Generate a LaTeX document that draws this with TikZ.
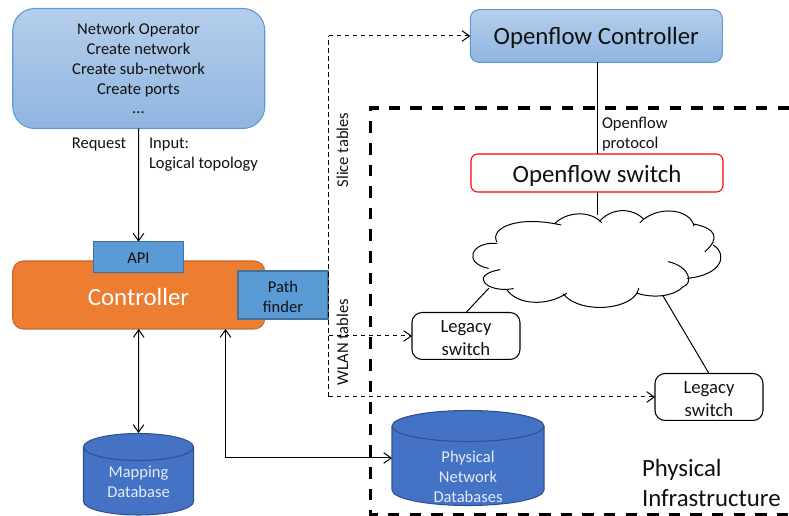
\documentclass[tikz,border=0pt]{standalone}
\usepackage{fontspec}
\setmainfont{Carlito}
\usetikzlibrary{arrows.meta}
\definecolor{edgeblue}{HTML}{5B9BD5}
\definecolor{lightA}{HTML}{B5CEEB}
\definecolor{lightB}{HTML}{90B5E1}
\definecolor{orangeC}{HTML}{ED7D31}
\definecolor{orangeE}{HTML}{C8682A}
\definecolor{boxblue}{HTML}{5B9BD5}
\definecolor{boxedge}{HTML}{41719C}
\definecolor{dbblue}{HTML}{4472C4}
\definecolor{dbedge}{HTML}{2F528F}
\definecolor{dbtext}{HTML}{E4ECF8}
\definecolor{txt}{HTML}{111111}
\tikzset{
  every node/.style={inner sep=0pt,outer sep=0pt,text=txt,align=center},
  gradbox/.style={draw=edgeblue,line width=.8pt,top color=lightA,bottom color=lightB},
  subbox/.style={draw=boxedge,line width=.8pt,fill=boxblue},
  legacy/.style={draw=black,line width=.8pt,fill=white,rounded corners=7.5pt,minimum width=81pt,minimum height=35.2pt},
  legtext/.style={font=\fontsize{14pt}{17pt}\selectfont},
  small/.style={font=\fontsize{12.4pt}{15pt}\selectfont},
  big/.style={font=\fontsize{18.6pt}{22pt}\selectfont},
  conn/.style={draw=black,line width=.75pt},
  arr/.style={conn,-{Straight Barb[length=5.6pt,width=8pt]}},
  biarr/.style={conn,{Straight Barb[length=5.6pt,width=8pt]}-{Straight Barb[length=5.6pt,width=8pt]}},
  thindash/.style={draw=black,line width=.75pt,dash pattern=on 3.4pt off 2.6pt},
  bigdash/.style={draw=black,line width=2.4pt,dash pattern=on 8.6pt off 7.6pt},
  dbstyle/.style={draw=dbedge,line width=.8pt,fill=dbblue},
}
\newcommand{\dbcyl}[5]{% cx top bottom rx ry
  \path[dbstyle] ({#1-#4},{#2+#5}) arc[start angle=180,end angle=360,x radius=#4,y radius=#5]
    -- ({#1+#4},{#3-#5}) arc[start angle=0,end angle=180,x radius=#4,y radius=#5] -- cycle;
  \draw[dbedge,line width=.8pt] ({#1-#4},{#2+#5}) arc[start angle=180,end angle=0,x radius=#4,y radius=#5];
}
\begin{document}
\begin{tikzpicture}[x=.75pt,y=-.75pt]
\useasboundingbox (0,0) rectangle (789,516);
% physical infrastructure frame
\coordinate (fa) at (789,108);
\coordinate (fb) at (370.5,108);
\coordinate (fc) at (370.5,514.5);
\coordinate (fd) at (789,514.5);
\draw[bigdash] (fa) -- (fb) -- (fc) -- (fd);

% operator
\node[gradbox,rounded corners=16.5pt,minimum width=189pt,minimum height=90pt] (op) at (138.75,68.5) {};
\node[small] (optext) at (138.5,68.8) {Network Operator\\Create network\\Create sub-network\\Create ports\\\raisebox{1pt}{...}};
\node[small,anchor=center] (req) at (99,145) {Request};
\node[small,align=left,anchor=north west] (inp) at (149,138) {Input:\\Logical topology};

% controller
\node[draw=orangeE,line width=.8pt,fill=orangeC,rounded corners=8pt,minimum width=189pt,minimum height=51pt] (ctl) at (138.75,295) {};
\node[big,text=white] (ctltext) at (138.5,296.5) {Controller};
\node[subbox,minimum width=68pt,minimum height=23pt] (api) at (138.5,257) {};
\node[small] (apit) at (138.5,258) {API};
\node[subbox,minimum width=67.5pt,minimum height=36pt] (pf) at (283,295) {};
\node[small] (pft) at (283,297) {Path\\finder};

% databases
\dbcyl{138.5}{433.5}{515}{55}{13.5}
\node[minimum width=82pt,minimum height=61pt] (mdb) at (138.5,474) {};
\node[small,text=dbtext] (mdbt) at (138.5,481.5) {Mapping\\Database};
\dbcyl{468}{410.5}{505.5}{76}{15.5}
\node[minimum width=114pt,minimum height=71pt] (pdb) at (468,458) {};
\node[small,text=dbtext] (pdbt) at (468,477) {Physical\\Network\\Databases};

% openflow
\node[gradbox,rounded corners=6.5pt,minimum width=189pt,minimum height=39.5pt] (ofc) at (596.3,36) {};
\node[big] (ofct) at (596.3,38) {Openflow Controller};
\node[draw=red,line width=.8pt,fill=white,rounded corners=5pt,minimum width=189pt,minimum height=28.5pt] (ofs) at (597,173) {};
\node[big] (ofst) at (597,175.5) {Openflow switch};
\node[small,align=left,anchor=north west] (ofp) at (602,117.5) {Openflow\\protocol};

% legacy
\node[legacy] (l1) at (466,336) {};
\node[legtext] (l1t) at (466,338) {Legacy\\switch};
\node[legacy] (l2) at (709,397) {};
\node[legtext] (l2t) at (709,399) {Legacy\\switch};

% connectors
\coordinate (ctop) at (597,215);
\coordinate (cleft) at (489,288);
\coordinate (cright) at (662.5,295);
\draw[conn] (ofc.south -| ofs.north) -- (ofs.north);
\draw[conn] (ofs.south) -- (ctop);
\draw[conn] (cleft) -- (l1.north);
\draw[conn] (cright) -- (l2.north);
\draw[arr] (op.south) -- (api.north);
\draw[biarr] (ctl.south) -- (mdb.north |- 0,433);
\coordinate (pbend) at (225.5,458);
\draw[biarr] (pbend |- ctl.south) -- (pbend) -- (pdb.west);

% dashed table lines
\coordinate (dtop) at (328.5,36);
\coordinate (dbot) at (328.5,397);
\coordinate (dmid) at (328.5,336);
\draw[thindash] (dbot) -- (dtop);
\draw[thindash,-{Straight Barb[length=5.6pt,width=8pt]}] (dtop) -- (ofc.west);
\draw[thindash,-{Straight Barb[length=5.6pt,width=8pt]}] (dmid) -- (l1.west);
\draw[thindash,-{Straight Barb[length=5.6pt,width=8pt]}] (dbot) -- (l2.west);
\node[small,rotate=90] (slice) at (342.5,150) {Slice tables};
\node[small,rotate=90] (wlan) at (342.5,342) {WLAN tables};

% cloud
\begin{scope}[shift={(400,200)},x=.25pt,y=-.25pt]
\path[fill=white] (290,125) .. controls (270,85) and (350,45) .. (465,68)
 .. controls (500,35) and (570,30) .. (600,62)
 .. controls (640,20) and (700,25) .. (725,58)
 .. controls (780,15) and (870,25) .. (880,72)
 .. controls (950,85) and (960,115) .. (940,135)
 .. controls (985,165) and (965,225) .. (862,235)
 .. controls (860,270) and (770,300) .. (712,280)
 .. controls (690,330) and (540,345) .. (490,282)
 .. controls (440,320) and (340,310) .. (320,268)
 .. controls (260,280) and (205,225) .. (262,205)
 .. controls (190,190) and (210,125) .. (290,130) -- cycle;
\draw[conn,line cap=round]
 (290,125) .. controls (270,85) and (350,45) .. (483,75)
 (465,70) .. controls (500,35) and (570,30) .. (605,68)
 (600,62) .. controls (640,20) and (700,25) .. (732,58)
 (720,68) .. controls (770,15) and (870,25) .. (882,78)
 (880,72) .. controls (950,85) and (960,115) .. (915,155)
 (940,135) .. controls (985,165) and (965,225) .. (862,235)
 (805,185) .. controls (870,200) and (880,250) .. (850,260) .. controls (820,290) and (760,295) .. (712,280)
 (716,265) .. controls (705,330) and (540,345) .. (490,282)
 (500,280) .. controls (440,320) and (350,315) .. (320,268)
 (340,266) .. controls (260,280) and (205,225) .. (300,209)
 (265,205) .. controls (190,190) and (210,125) .. (290,130);
\end{scope}

% physical infrastructure label
\node[font=\fontsize{18.6pt}{22.5pt}\selectfont,align=left,anchor=north west] (pi) at (642,459) {Physical\\Infrastructure};
\end{tikzpicture}
\end{document}
